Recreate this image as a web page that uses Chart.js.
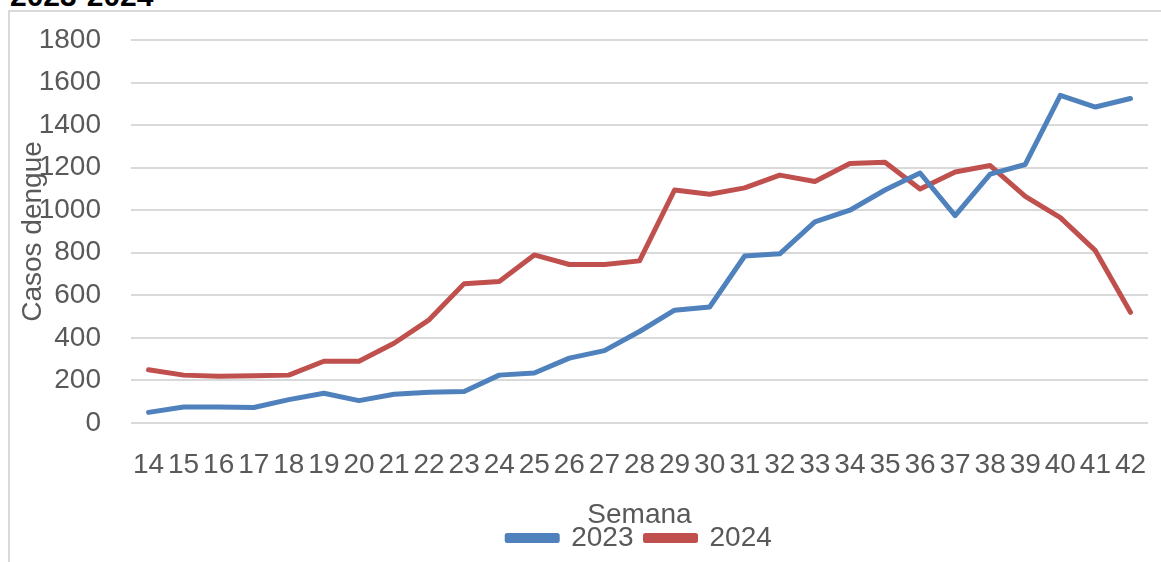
<!DOCTYPE html>
<html>
<head>
<meta charset="utf-8">
<script src="https://cdn.jsdelivr.net/npm/chart.js@4.4.1/dist/chart.umd.min.js"></script>
<style>
  html, body { margin: 0; padding: 0; background: #fff; overflow: hidden; }
  body { width: 1161px; height: 562px; position: relative; }
  #frame { position: absolute; left: 8px; top: 10px; width: 1200px; height: 600px;
           border-left: 2px solid #d9d9d9; border-top: 2px solid #d9d9d9; }
  #title { position: absolute; left: 10px; top: -21px; line-height: 30px;
           font: bold 30px 'Liberation Sans', Arial, sans-serif; color: #000; white-space: nowrap; }
  #wrap { position: absolute; left: 0; top: 0; width: 1161px; height: 562px; }
</style>
</head>
<body>
<div id="frame"></div>
<div id="title">2023-2024</div>
<div id="wrap"><canvas id="chart" width="1161" height="562"></canvas></div>
<script>
// semanas epidemiológicas
const semanas = ['14','15','16','17','18','19','20','21','22','23','24','25','26','27','28',
                 '29','30','31','32','33','34','35','36','37','38','39','40','41','42'];

const casos2023 = [50, 75, 75, 73, 110, 140, 105, 135, 145, 148, 225, 235, 305, 340, 430,
                   530, 545, 785, 795, 945, 1000, 1095, 1175, 975, 1170, 1215, 1540, 1485, 1525];

const casos2024 = [250, 225, 220, 222, 225, 290, 290, 375, 485, 655, 665, 790, 745, 745, 762,
                   1095, 1075, 1105, 1165, 1135, 1220, 1225, 1100, 1180, 1210, 1065, 965, 810, 520];

const yTicks = [0, 200, 400, 600, 800, 1000, 1200, 1400, 1600, 1800];

const azul = '#4f81bd';
const rojo = '#c0504d';
const gris = '#595959';

Chart.defaults.font.family = "'Liberation Sans', Arial, sans-serif";
Chart.defaults.font.size = 28;
Chart.defaults.color = gris;

// titulo del eje Y, encima de las etiquetas como en el original
const yTitle = {
    id: 'yTitle',
    afterLayout(chart) {
        // centrar la leyenda sobre el area del grafico
        chart.legend.left = chart.chartArea.left;
        chart.legend.right = chart.chartArea.right;
    },
    afterDraw(chart) {
        const { ctx, chartArea } = chart;
        ctx.save();
        ctx.translate(33, (chartArea.top + chartArea.bottom) / 2);
        ctx.rotate(-Math.PI / 2);
        ctx.font = "28px 'Liberation Sans', Arial, sans-serif";
        ctx.fillStyle = gris;
        ctx.textAlign = 'center';
        ctx.textBaseline = 'middle';
        ctx.fillText('Casos dengue', 0, 0);
        ctx.restore();
    }
};

const serie = (label, data, color) => ({
    label: label,
    data: data,
    borderColor: color,
    backgroundColor: color,
    borderWidth: 5,
    pointRadius: 0,
    tension: 0,
    borderCapStyle: 'round',
    borderJoinStyle: 'round'
});

new Chart(document.getElementById('chart'), {
    type: 'line',
    data: {
        labels: semanas,
        datasets: [serie('2023', casos2023, azul), serie('2024', casos2024, rojo)]
    },
    options: {
        responsive: false,
        animation: false,
        layout: { padding: { top: 40, right: 13, left: 0, bottom: 0 } },
        plugins: {
            tooltip: { enabled: false },
            legend: {
                position: 'bottom',
                labels: { boxWidth: 50, boxHeight: 5, padding: 12, color: gris }
            }
        },
        scales: {
            x: {
                offset: true,
                afterFit: (scale) => {
                    scale.height = 89;
                    scale.paddingLeft = 0;
                    scale.paddingRight = 0;
                },
                grid: { display: false },
                border: { display: false },
                ticks: { padding: 17, maxRotation: 0, autoSkip: false },
                title: { display: true, text: 'Semana', padding: { top: 0, bottom: -20 } }
            },
            y: {
                min: yTicks[0],
                max: yTicks[yTicks.length - 1],
                afterFit: (scale) => {
                    scale.width = 131;
                    scale.paddingTop = 0;
                    scale.paddingBottom = 0;
                },
                border: { display: false },
                grid: { color: '#d9d9d9', lineWidth: 2, drawTicks: false },
                ticks: { stepSize: yTicks[1] - yTicks[0], padding: 30, callback: (v) => String(v) }
            }
        }
    },
    plugins: [yTitle]
});
</script>
</body>
</html>
